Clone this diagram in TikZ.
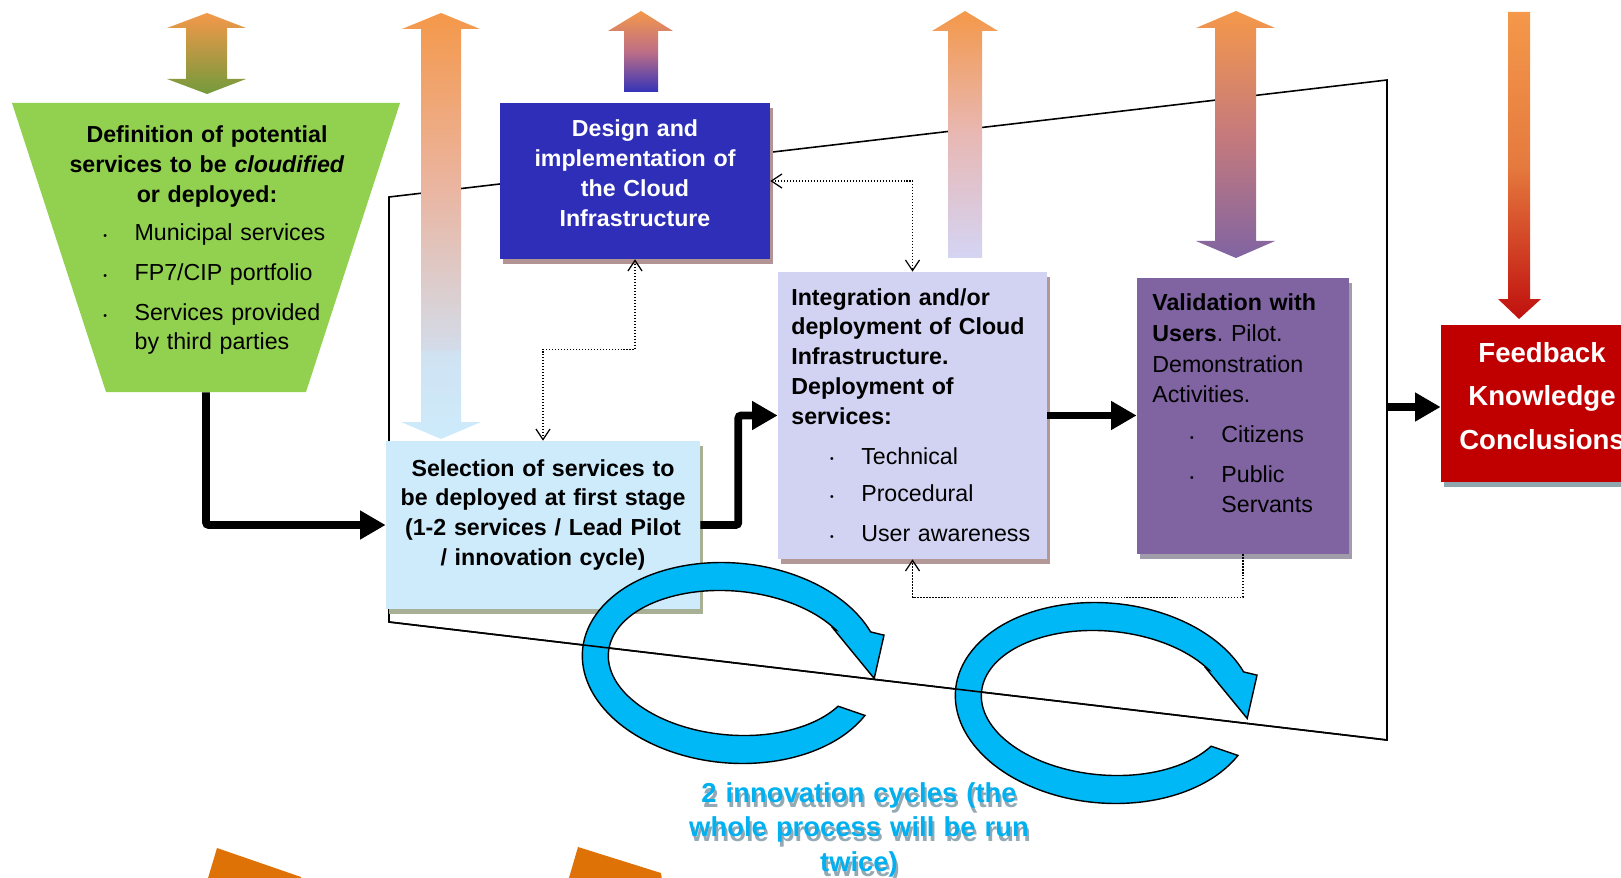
\documentclass[tikz,border=0pt]{standalone}
\usepackage{fontspec}
\setmainfont{Liberation Sans}
\usetikzlibrary{arrows.meta,fit,shadows}
\frenchspacing

\definecolor{arrorange}{HTML}{F4984A}
\definecolor{defgreen}{HTML}{92D050}
\definecolor{designblue}{HTML}{2E2EB8}
\definecolor{designshadow}{HTML}{B29494}
\definecolor{selblue}{HTML}{CDEBFB}
\definecolor{selshadow}{HTML}{A7AF95}
\definecolor{integlav}{HTML}{D2D2F2}
\definecolor{integshadow}{HTML}{B39898}
\definecolor{validpurple}{HTML}{8064A2}
\definecolor{validshadow}{HTML}{A09CAA}
\definecolor{feedred}{HTML}{C00000}
\definecolor{feedshadow}{HTML}{8EA6AE}
\definecolor{ringblue}{HTML}{00B8F5}
\definecolor{cyantext}{HTML}{00B0F0}
\definecolor{cyanshadow}{HTML}{93A9B3}
\definecolor{bottomorange}{HTML}{DF7206}

\newcommand\boxfont{\fontsize{13.2pt}{17pt}\selectfont}
\newcommand\validfont{\fontsize{13.2pt}{17.4pt}\selectfont}
\newcommand\feedfont{\fontsize{15.7pt}{25pt}\selectfont}
\newcommand\cyclefont{\fontsize{15.6pt}{19.8pt}\selectfont}
\newcommand\bul[1]{\hspace*{#1}\makebox[17.8pt][l]{\fontsize{6pt}{6pt}\selectfont\raisebox{0.6pt}{•}}}

\tikzset{
  frame/.style={line width=0.9pt},
  box/.style 2 args={fill=#1, inner sep=0pt,
    drop shadow={shadow xshift=1.7pt, shadow yshift=-2.8pt, opacity=1, fill=#2}},
  boxtext/.style={inner sep=0pt, font=\boxfont},
  flow/.style={line width=4.4pt, rounded corners=1.5pt, -{Triangle[length=14.5pt,width=15.5pt]}},
  link/.style={densely dotted, line width=0.7pt, >={Straight Barb[length=6pt,width=8pt]}},
  ring/.style={fill=ringblue, draw=black, line width=0.8pt},
  cycletext/.style={inner sep=0pt, anchor=base, text width=8cm, align=center, font=\cyclefont\bfseries}
}

\begin{document}
\begin{tikzpicture}[x=0.02cm, y=-0.02cm]
  % page
  \useasboundingbox (0,0) rectangle (1621,878);
  \clip (0,0) rectangle (1621,878);
  % corners of the frame behind the process
  \coordinate (frametl) at (389,197);
  \coordinate (frametr) at (1387,80);
  \coordinate (framebr) at (1387,740);
  \coordinate (framebl) at (389,622);
  \coordinate (fbstart) at (1387,407);
  \draw[frame] (frametl) -- (frametr) -- (framebr) -- (framebl) -- cycle;
  % shaded arrows at the top
  \shade[top color=arrorange, bottom color={rgb,255:red,115;green,154;blue,60}]
    (207,13) -- (246,28) -- (227,28) -- (227,79) -- (246,79) -- (207,94)
    -- (167,79) -- (186,79) -- (186,28) -- (167,28) -- cycle;
  \shade[top color=arrorange, bottom color={rgb,255:red,211;green,220;blue,234},
         middle color={rgb,255:red,235;green,180;blue,158}]
    (441,13) -- (480,29) -- (461,29) -- (461,351) -- (421,351) -- (421,29) -- (402,29) -- cycle;
  \shade[top color={rgb,255:red,208;green,226;blue,242}, bottom color=selblue]
    (421,351) -- (461,351) -- (461,422) -- (481,422) -- (441,439) -- (401,422) -- (421,422) -- cycle;
  \shade[top color=arrorange, bottom color={rgb,255:red,52;green,52;blue,184},
         middle color={rgb,255:red,190;green,110;blue,134}]
    (641,11) -- (673,31) -- (658,31) -- (658,92) -- (624,92) -- (624,31) -- (608,31) -- cycle;
  \shade[top color=arrorange, bottom color={rgb,255:red,212;green,212;blue,244},
         middle color={rgb,255:red,232;green,184;blue,180}]
    (965,11) -- (998,31) -- (982,31) -- (982,258) -- (948,258) -- (948,31) -- (932,31) -- cycle;
  \shade[top color=arrorange, bottom color=validpurple,
         middle color={rgb,255:red,198;green,122;blue,124}]
    (1236,11) -- (1275,28) -- (1256,28) -- (1256,241) -- (1275,241) -- (1236,258)
    -- (1196,241) -- (1215,241) -- (1215,28) -- (1196,28) -- cycle;
  \shade[top color=arrorange, bottom color={rgb,255:red,192;green,16;blue,14},
         middle color={rgb,255:red,229;green,122;blue,62}]
    (1508,12) -- (1530,12) -- (1530,299) -- (1541,299) -- (1519,319) -- (1498,299) -- (1508,299) -- cycle;
  % trapezoid with the potential services
  \fill[defgreen] (12,103) -- (400,103) -- (306,392) -- (106,392) -- cycle;
  \node[fit={(12,103) (400,392)}, inner sep=0pt] (defn) {};
  % process boxes
  \node[box={designblue}{designshadow}, fit={(500,103) (770,259)}] (design) {};
  \node[box={selblue}{selshadow}, fit={(386,441) (700,609)}] (sel) {};
  \node[box={integlav}{integshadow}, fit={(778,272) (1047,559)}] (integ) {};
  \node[box={validpurple}{validshadow}, fit={(1137,278) (1349,554)}] (valid) {};
  \node[box={feedred}{feedshadow}, fit={(1441,325) (1640,482)}] (feed) {};
  % texts of the boxes
  \node[boxtext, font=\boxfont\bfseries, anchor=base, text width=7cm, align=center] (deftitle) at (207,143)
    {Definition of potential\\services to be \textit{cloudified}\\or deployed:};
  \node[boxtext, anchor=base west, text width=6cm, align=left] (deflist) at (103,241)
    {\bul{0pt}Municipal services\\[5.5pt]\bul{0pt}FP7/CIP portfolio\\[5.5pt]\bul{0pt}Services provided\\\hspace*{17.8pt}by third parties};
  \node[boxtext, font=\boxfont\bfseries, text=white, anchor=base, text width=5.2cm, align=center] (designtxt) at (635,137)
    {Design and\\implementation of\\the Cloud\\Infrastructure};
  \node[boxtext, font=\boxfont\bfseries, anchor=base, text width=6.2cm, align=center] (seltxt) at (543,476)
    {Selection of services to\\be deployed at first stage\\(1-2 services / Lead Pilot\\/ innovation cycle)};
  \node[boxtext, anchor=base west, text width=6cm, align=left] (integtxt) at (791,305)
    {{\bfseries Integration and/or\\deployment of Cloud\\Infrastructure.\\Deployment of\\services:}\\[5.5pt]
     \bul{22pt}Technical\\[4.5pt]\bul{22pt}Procedural\\[5.5pt]\bul{22pt}User awareness};
  \node[boxtext, font=\validfont, anchor=base west, text width=5cm, align=left] (validtxt) at (1152,311)
    {\textbf{Validation with}\\\textbf{Users}. Pilot.\\Demonstration\\Activities.\\[5.5pt]
     \bul{21.5pt}Citizens\\[5pt]\bul{21.5pt}Public\\\hspace*{39.3pt}Servants};
  \node[inner sep=0pt, font=\feedfont\bfseries, text=white, anchor=base, text width=6cm, align=center] (feedtxt) at (1542,362)
    {Feedback\\Knowledge\\Conclusions};
  % flow arrows
  \draw[flow] (defn.south) |- (sel.west);
  \draw[flow] (sel.east) -- ++(38,0) |- (integ.west);
  \draw[flow] (integ.east) -- (integ.east -| valid.west);
  \draw[flow] (fbstart) -- (fbstart -| feed.west);
  % dotted links between the boxes
  \draw[link, <->] (design.south) -- ++(0,90) -| (sel.north);
  \draw[link, <->] (design.east) -| (integ.north);
  \draw[link, ->] (valid.south) -- ++(0,43) -| (integ.south);
  % the two innovation cycles
  \foreach \cx/\cy in {732/663, 1105/703} {
    \begin{scope}[shift={(\cx,\cy)}, rotate=-5]
      \filldraw[ring] (24:150 and 100) arc[start angle=24, end angle=334.5, x radius=150, y radius=100]
        -- (149,-41) -- (143,3) -- (98,-43)
        -- (324:124 and 72) arc[start angle=324, end angle=28, x radius=124, y radius=72] -- cycle;
    \end{scope}
  }
  % bottom edge of the frame runs over the cycles
  \draw[frame] (framebl) -- (framebr);
  % caption of the cycles
  \node[cycletext, text=cyanshadow] (cycleshade) at (861,807)
    {2 innovation cycles (the\\whole process will be run\\twice)};
  \node[cycletext, text=cyantext] (cycletxt) at (859,802)
    {2 innovation cycles (the\\whole process will be run\\twice)};
  % orange shapes cut by the lower edge
  \fill[bottomorange] (217,848) -- (301,877) -- (304,895) -- (203,895) -- cycle;
  \fill[bottomorange] (578,847) -- (661,873) -- (664,895) -- (564,895) -- cycle;
\end{tikzpicture}
\end{document}
